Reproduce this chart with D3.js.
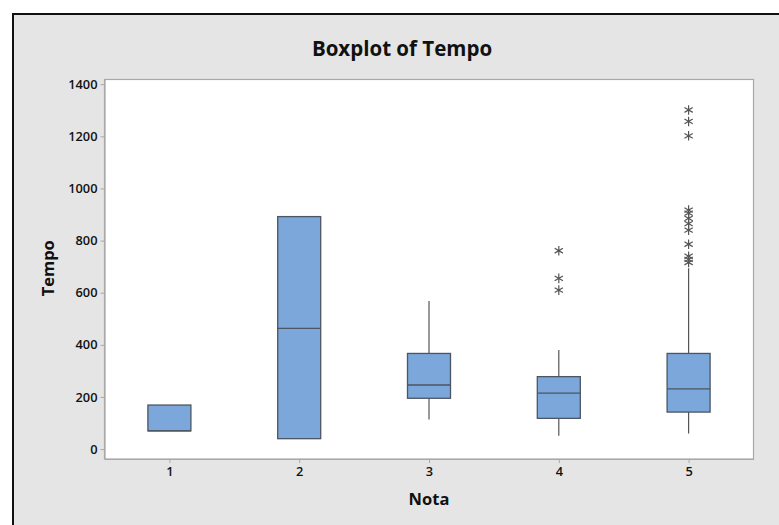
<!DOCTYPE html>
<html>
<head>
<meta charset="utf-8">
<script src="https://cdn.jsdelivr.net/npm/d3@7"></script>
<style>
  body { margin: 0; background: #fff; }
  text { font-family: "Open Sans", "Noto Sans", sans-serif; fill: #111; }
</style>
</head>
<body>
<div class="chart-wrap"></div>
<script>
// data
const categories = ["1", "2", "3", "4", "5"];
const whiskerLow = [70, 40, 114, 51, 60];
const q1 = [70, 40, 195, 118, 142];
const median = [70, 463, 246, 215, 231];
const q3 = [169, 892, 367, 278, 367];
const whiskerHigh = [169, 892, 568, 380, 694];
const outliers = [
  [],
  [],
  [],
  [761, 655, 610],
  [1301, 1257, 1202, 917, 905, 885, 865, 840, 786, 740, 728, 716]
];
const yTicks = [0, 200, 400, 600, 800, 1000, 1200, 1400];

const width = 779, height = 525;
const plot = { left: 104.5, right: 753.5, top: 79.5, bottom: 459 };

const svg = d3
  .select(".chart-wrap")
  .append("svg")
  .attr("width", width)
  .attr("height", height);

// panel background + frame lines
svg.append("rect")
  .attr("x", 13).attr("y", 13)
  .attr("width", width - 13).attr("height", height - 13)
  .attr("fill", "#e5e5e5");
svg.append("line")
  .attr("x1", 12).attr("x2", width).attr("y1", 14).attr("y2", 14)
  .attr("stroke", "#111").attr("stroke-width", 2);
svg.append("line")
  .attr("x1", 13).attr("x2", 13).attr("y1", 13).attr("y2", height)
  .attr("stroke", "#111").attr("stroke-width", 2);

// plot area
svg.append("rect")
  .attr("x", plot.left).attr("y", plot.top)
  .attr("width", plot.right - plot.left).attr("height", plot.bottom - plot.top)
  .attr("fill", "#fff")
  .attr("stroke", "#a8a8a8")
  .attr("stroke-width", 1.2);

const x = d3.scalePoint()
  .domain(categories)
  .range([plot.left, plot.right])
  .padding(0.5);

const y = d3.scaleLinear()
  .domain([-38, 1418])
  .range([plot.bottom, plot.top]);

// axes
const yAxis = svg.append("g")
  .attr("transform", `translate(${plot.left},0)`)
  .call(d3.axisLeft(y).tickValues(yTicks).tickSizeInner(4).tickSizeOuter(0).tickPadding(3).tickFormat(d3.format("d")));
const xAxis = svg.append("g")
  .attr("transform", `translate(0,${plot.bottom})`)
  .call(d3.axisBottom(x).tickSizeInner(4).tickSizeOuter(0).tickPadding(4));

[yAxis, xAxis].forEach(g => {
  g.select(".domain").attr("stroke", "#a8a8a8").attr("stroke-width", 1.2);
  g.selectAll(".tick line").attr("stroke", "#a8a8a8");
  g.selectAll(".tick text")
    .attr("font-family", "'Open Sans', sans-serif")
    .attr("font-size", 12.8)
    .attr("font-weight", 600)
    .attr("fill", "#111");
});

const boxW = 43;
const boxes = svg.append("g")
  .selectAll("g")
  .data(categories)
  .enter()
  .append("g");

// whiskers
boxes.append("line")
  .attr("x1", d => x(d)).attr("x2", d => x(d))
  .attr("y1", (d, i) => y(q3[i])).attr("y2", (d, i) => y(whiskerHigh[i]))
  .attr("stroke", "#555").attr("stroke-width", 1.2);
boxes.append("line")
  .attr("x1", d => x(d)).attr("x2", d => x(d))
  .attr("y1", (d, i) => y(q1[i])).attr("y2", (d, i) => y(whiskerLow[i]))
  .attr("stroke", "#555").attr("stroke-width", 1.2);

// boxes
boxes.append("rect")
  .attr("x", d => x(d) - boxW / 2)
  .attr("y", (d, i) => y(q3[i]))
  .attr("width", boxW)
  .attr("height", (d, i) => y(q1[i]) - y(q3[i]))
  .attr("fill", "#7ba7da")
  .attr("stroke", "#4d5560")
  .attr("stroke-width", 1.3);

// medians
boxes.append("line")
  .attr("x1", d => x(d) - boxW / 2).attr("x2", d => x(d) + boxW / 2)
  .attr("y1", (d, i) => y(median[i])).attr("y2", (d, i) => y(median[i]))
  .attr("stroke", "#4d5560").attr("stroke-width", 1.3);

// outliers
const star = d3.symbol().type(d3.symbolAsterisk).size(64);
boxes.each(function (d, i) {
  d3.select(this)
    .selectAll("path.out")
    .data(outliers[i])
    .enter()
    .append("path")
    .attr("class", "out")
    .attr("d", star)
    .attr("transform", v => `translate(${x(d)},${y(v)})`)
    .attr("fill", "none")
    .attr("stroke", "#555")
    .attr("stroke-width", 1.2);
});

// titles
svg.append("text")
  .attr("x", 402).attr("y", 56)
  .attr("text-anchor", "middle")
  .attr("font-size", 20.5)
  .attr("font-weight", "bold")
  .text("Boxplot of Tempo");

svg.append("text")
  .attr("x", (plot.left + plot.right) / 2).attr("y", 505)
  .attr("text-anchor", "middle")
  .attr("font-size", 16.5)
  .attr("font-weight", "bold")
  .text("Nota");

svg.append("text")
  .attr("transform", `translate(54,${(plot.top + plot.bottom) / 2 - 1}) rotate(-90)`)
  .attr("text-anchor", "middle")
  .attr("font-size", 16.5)
  .attr("font-weight", "bold")
  .text("Tempo");
</script>
</body>
</html>
